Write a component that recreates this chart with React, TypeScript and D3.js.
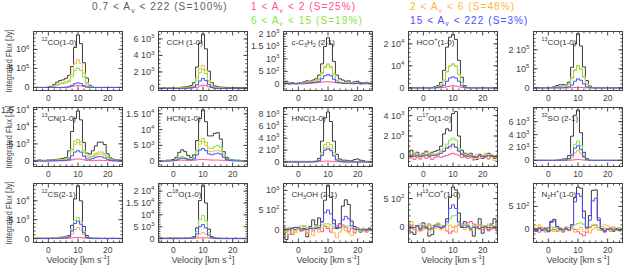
import React from "react";
import * as d3 from "d3";

const WIDTH = 623;
const HEIGHT = 266;

// velocity channels [km/s]
const velocity = [-5, -4, -3, -2, -1, 0, 1, 2, 3, 4, 5, 6, 7, 8, 9, 10, 11, 12, 13, 14, 15, 16, 17, 18, 19, 20, 21, 22, 23, 24, 25];
const xTicksMajor = [0, 10, 20];
const xTicksMinor = [-4, -2, 2, 4, 6, 8, 12, 14, 16, 18, 22, 24];

// --- 12CO(1-0)  (x 1e5 Jy)
const co12Total = [0, 0, 0, 0, 0, 0.05, 0.3, 0.8, 1.4, 1.8, 2.0, 2.4, 3.2, 5.5, 10.5, 13.8, 11.5, 6.5, 2.5, 0.6, 0.1, 0, 0, 0, 0, 0, 0, 0, 0, 0, 0];
const co12Pink = [0, 0, 0, 0, 0, 0, 0, 0, 0, 0, 0, 0.05, 0.1, 0.25, 0.4, 0.5, 0.4, 0.2, 0.05, 0, 0, 0, 0, 0, 0, 0, 0, 0, 0, 0, 0];
const co12Orange = [0, 0, 0, 0, 0, 0, 0.1, 0.4, 0.8, 1.1, 1.3, 1.5, 1.9, 3.5, 6.2, 7.3, 6.4, 3.8, 1.3, 0.3, 0.05, 0, 0, 0, 0, 0, 0, 0, 0, 0, 0];
const co12Green = [0, 0, 0, 0, 0, 0, 0.05, 0.3, 0.6, 0.9, 1.0, 1.2, 1.5, 2.8, 4.5, 5.1, 4.5, 2.7, 0.9, 0.2, 0, 0, 0, 0, 0, 0, 0, 0, 0, 0, 0];
const co12Blue = [0, 0, 0, 0, 0, 0, 0, 0, 0, 0, 0.02, 0.05, 0.2, 0.6, 1.0, 1.2, 1.0, 0.5, 0.15, 0.02, 0, 0, 0, 0, 0, 0, 0, 0, 0, 0, 0];

// --- CCH (1-0)  (x 1e3 Jy)
const cchTotal = [0.05, 0.05, 0.08, 0.05, 0.1, 0.1, 0.1, 0.12, 0.15, 0.2, 0.25, 0.35, 0.7, 2.6, 5.5, 6.6, 4.8, 2.1, 0.7, 0.3, 0.2, 0.15, 0.15, 0.12, 0.1, 0.12, 0.1, 0.1, 0.08, 0.1, 0.1];
const cchPink = [0, 0, 0, 0, 0, 0, 0, 0, 0, 0, 0.02, 0.05, 0.08, 0.15, 0.3, 0.4, 0.35, 0.2, 0.08, 0.02, 0, 0, 0, 0, 0, 0, 0, 0, 0, 0, 0];
const cchOrange = [0, 0.02, 0, 0.03, 0.05, 0.05, 0.08, 0.1, 0.12, 0.15, 0.15, 0.2, 0.4, 1.3, 2.4, 2.8, 2.2, 1.0, 0.3, 0.1, 0.05, 0.05, 0.03, 0.02, 0.03, 0.02, 0, 0.02, 0, 0, 0];
const cchGreen = [0, 0, 0.02, 0, 0.03, 0.05, 0.05, 0.08, 0.1, 0.12, 0.12, 0.15, 0.3, 1.0, 1.9, 2.3, 1.8, 0.8, 0.25, 0.08, 0.03, 0.02, 0.02, 0, 0.02, 0, 0, 0, 0, 0, 0];
const cchBlue = [0, 0, 0, 0, 0, 0, 0, 0, 0.02, 0.03, 0.05, 0.08, 0.15, 0.45, 0.9, 1.2, 0.95, 0.45, 0.12, 0.03, 0, 0, 0, 0, 0, 0, 0, 0, 0, 0, 0];

// --- c-C3H2 (2-1)  (x 1e3 Jy)
const c3h2Total = [0.05, 0.1, 0.03, 0.05, 0, 0.02, 0.05, 0.08, 0.12, 0.1, 0.15, 0.2, 0.35, 0.8, 1.5, 1.85, 1.6, 0.9, 0.35, 0.2, 0.15, 0.1, 0.12, 0.05, 0.08, 0.1, 0.05, 0.03, 0.06, 0.02, 0.03];
const c3h2Pink = [0, 0.01, -0.02, 0, 0.01, -0.01, 0.02, 0, 0.01, 0.02, 0.03, 0.04, 0.05, 0.07, 0.08, 0.08, 0.07, 0.06, 0.04, 0.05, 0.03, 0.06, 0.04, 0.02, 0, 0.01, -0.01, 0, 0.01, 0, 0];
const c3h2Orange = [0.02, 0.05, 0, 0.03, 0.02, 0, 0.03, 0.05, 0.08, 0.06, 0.1, 0.12, 0.2, 0.45, 0.7, 0.8, 0.7, 0.4, 0.15, 0.08, 0.05, 0.03, 0.06, 0.02, 0.04, 0.05, 0.02, 0, 0.03, 0.01, 0.02];
const c3h2Green = [0.03, 0.02, 0.04, 0, 0.02, 0.03, 0.02, 0.06, 0.05, 0.08, 0.08, 0.1, 0.18, 0.4, 0.65, 0.75, 0.65, 0.35, 0.12, 0.05, 0.03, 0.04, 0.02, 0.03, 0.02, 0.04, 0.01, 0.02, 0.02, 0.03, 0.02];
const c3h2Blue = [0, 0.02, 0, 0.01, 0, 0.02, 0, 0.02, 0.03, 0.04, 0.05, 0.06, 0.1, 0.2, 0.32, 0.37, 0.32, 0.18, 0.06, 0.03, 0.02, 0.01, 0.02, 0, 0.01, 0.02, 0, 0.01, 0, 0.01, 0];

// --- HCO+(1-0)  (x 1e4 Jy)
const hcopTotal = [0, 0, 0, 0, 0, 0, 0, 0, 0.02, 0.05, 0.1, 0.25, 0.8, 1.85, 2.3, 2.42, 2.2, 1.25, 0.48, 0.1, 0.02, 0, 0, 0, 0, 0, 0, 0, 0, 0, 0];
const hcopPink = [0, 0, 0, 0, 0, 0, 0, 0, 0, 0, 0, 0.01, 0.02, 0.05, 0.08, 0.1, 0.08, 0.05, 0.02, 0, 0, 0, 0, 0, 0, 0, 0, 0, 0, 0, 0];
const hcopOrange = [0, 0, 0, 0, 0, 0, 0, 0, 0, 0.02, 0.05, 0.12, 0.35, 0.75, 1.0, 1.1, 1.0, 0.62, 0.25, 0.05, 0, 0, 0, 0, 0, 0, 0, 0, 0, 0, 0];
const hcopGreen = [0, 0, 0, 0, 0, 0, 0, 0, 0, 0.02, 0.05, 0.12, 0.35, 0.72, 0.98, 1.05, 0.98, 0.6, 0.25, 0.05, 0, 0, 0, 0, 0, 0, 0, 0, 0, 0, 0];
const hcopBlue = [0, 0, 0, 0, 0, 0, 0, 0, 0, 0, 0.02, 0.05, 0.12, 0.3, 0.45, 0.5, 0.45, 0.3, 0.1, 0.02, 0, 0, 0, 0, 0, 0, 0, 0, 0, 0, 0];

// --- 13CO(1-0)  (x 1e5 Jy)
const co13Total = [0, 0, 0, 0, 0, 0, 0.02, 0.06, 0.12, 0.16, 0.17, 0.15, 0.3, 1.08, 2.3, 2.85, 2.2, 1.1, 0.38, 0.1, 0.02, 0, 0, 0, 0, 0, 0, 0, 0, 0, 0];
const co13Pink = [0, 0, 0, 0, 0, 0, 0, 0, 0, 0, 0, 0, 0, 0.01, 0.02, 0.03, 0.02, 0.01, 0, 0, 0, 0, 0, 0, 0, 0, 0, 0, 0, 0, 0];
const co13Orange = [0, 0, 0, 0, 0, 0, 0.01, 0.02, 0.05, 0.07, 0.08, 0.08, 0.17, 0.5, 0.9, 1.1, 0.95, 0.55, 0.18, 0.04, 0, 0, 0, 0, 0, 0, 0, 0, 0, 0, 0];
const co13Green = [0, 0, 0, 0, 0, 0, 0.01, 0.03, 0.06, 0.08, 0.1, 0.1, 0.2, 0.55, 0.95, 1.17, 1.0, 0.6, 0.2, 0.05, 0, 0, 0, 0, 0, 0, 0, 0, 0, 0, 0];
const co13Blue = [0, 0, 0, 0, 0, 0, 0, 0, 0, 0, 0, 0.02, 0.05, 0.15, 0.35, 0.47, 0.4, 0.2, 0.05, 0.01, 0, 0, 0, 0, 0, 0, 0, 0, 0, 0, 0];

// --- 13CN(1-0)  (x 1e3 Jy)
const cn13Total = [0.2, 0.2, 0.3, 0.2, 0.2, 0.3, 0.3, 0.4, 0.5, 0.6, 0.8, 1.0, 3.0, 8.6, 12.4, 14.6, 12.0, 5.4, 2.3, 2.0, 3.0, 4.4, 5.5, 5.5, 4.8, 2.1, 0.9, 0.5, 0.3, 0.3, 0.2];
const cn13Pink = [0, 0, 0, 0, 0, 0, 0, 0.02, 0.05, 0.05, 0.08, 0.1, 0.15, 0.35, 0.55, 0.6, 0.55, 0.35, 0.15, 0.1, 0.12, 0.18, 0.22, 0.2, 0.15, 0.08, 0.05, 0, 0, 0, 0];
const cn13Orange = [0.1, 0.1, 0.1, 0.1, 0.1, 0.1, 0.15, 0.2, 0.25, 0.3, 0.35, 0.4, 0.8, 3.0, 4.9, 5.4, 4.7, 2.5, 1.2, 1.0, 1.2, 1.7, 2.0, 2.0, 1.7, 0.9, 0.4, 0.2, 0.15, 0.1, 0.1];
const cn13Green = [0.1, 0.1, 0.15, 0.1, 0.1, 0.15, 0.2, 0.25, 0.3, 0.4, 0.45, 0.5, 1.0, 3.5, 5.8, 6.3, 5.5, 3.0, 1.5, 1.2, 1.5, 2.2, 2.6, 2.6, 2.2, 1.2, 0.5, 0.3, 0.2, 0.15, 0.1];
const cn13Blue = [0, 0, 0.05, 0, 0, 0.05, 0.05, 0.1, 0.1, 0.15, 0.15, 0.2, 0.5, 1.5, 2.6, 3.0, 2.6, 1.4, 0.6, 0.5, 0.7, 1.1, 1.3, 1.2, 0.9, 0.5, 0.2, 0.1, 0.05, 0.05, 0];

// --- HCN(1-0)  (x 1e3 Jy)
const hcnTotal = [0.2, 0.2, 0.2, 0.3, 0.3, 0.5, 1.2, 2.8, 3.6, 3.0, 1.8, 1.2, 2.0, 6.5, 13.5, 16.3, 12.5, 8.0, 8.0, 8.8, 9.0, 7.0, 3.0, 1.2, 0.6, 0.4, 0.3, 0.3, 0.2, 0.2, 0.2];
const hcnPink = [0.1, 0.1, 0.15, 0.1, 0.15, 0.2, 0.25, 0.3, 0.3, 0.3, 0.25, 0.25, 0.3, 0.4, 0.5, 0.5, 0.45, 0.4, 0.35, 0.35, 0.35, 0.3, 0.25, 0.2, 0.2, 0.15, 0.15, 0.1, 0.1, 0.1, 0.1];
const hcnOrange = [0.05, 0.05, 0.1, 0.1, 0.1, 0.2, 0.5, 1.0, 1.3, 1.0, 0.7, 0.5, 1.0, 3.0, 5.4, 6.2, 5.0, 3.2, 3.0, 3.3, 3.5, 3.0, 1.6, 0.6, 0.3, 0.2, 0.15, 0.1, 0.1, 0.1, 0.05];
const hcnGreen = [0.05, 0.05, 0.1, 0.1, 0.1, 0.2, 0.6, 1.2, 1.5, 1.2, 0.8, 0.6, 1.2, 3.5, 6.3, 7.2, 6.0, 4.2, 4.0, 4.6, 5.0, 4.3, 2.3, 0.8, 0.4, 0.3, 0.2, 0.15, 0.1, 0.1, 0.1];
const hcnBlue = [0, 0, 0, 0.05, 0.05, 0.1, 0.3, 0.7, 0.9, 0.8, 0.5, 0.4, 0.7, 2.0, 3.5, 4.0, 3.3, 2.3, 2.0, 2.3, 2.5, 2.2, 1.2, 0.5, 0.2, 0.1, 0.1, 0.05, 0.05, 0, 0];

// --- HNC(1-0)  (x 1e3 Jy)
const hncTotal = [0.1, 0.1, 0.1, 0.1, 0.1, 0.1, 0.1, 0.1, 0.1, 0.1, 0.1, 0.15, 0.6, 3.5, 7.4, 8.4, 6.8, 3.5, 1.3, 0.5, 0.3, 0.3, 0.2, 0.2, 0.4, 0.5, 0.3, 0.2, 0.1, 0.1, 0.1];
const hncPink = [0, 0, 0, 0, 0, 0, 0, 0, 0, 0, 0, 0.02, 0.05, 0.1, 0.15, 0.15, 0.12, 0.08, 0.04, 0.02, 0, 0, 0, 0, 0, 0, 0, 0, 0, 0, 0];
const hncOrange = [0, 0, 0, 0, 0, 0, 0, 0, 0, 0.02, 0.03, 0.08, 0.2, 1.2, 2.3, 2.6, 2.2, 1.2, 0.4, 0.15, 0.05, 0.03, 0, 0, 0, 0, 0, 0, 0, 0, 0];
const hncGreen = [0, 0, 0, 0, 0, 0, 0, 0, 0, 0.02, 0.05, 0.1, 0.3, 1.6, 2.9, 3.3, 2.9, 1.6, 0.5, 0.2, 0.1, 0.05, 0.05, 0, 0, 0, 0, 0, 0, 0, 0];
const hncBlue = [0, 0, 0, 0, 0, 0, 0, 0, 0, 0, 0.02, 0.05, 0.2, 1.1, 2.0, 2.2, 1.9, 1.0, 0.3, 0.1, 0.03, 0, 0, 0, 0, 0, 0, 0, 0, 0, 0];

// --- C17O(1-0)  (x 1e3 Jy)
const c17oTotal = [0.2, 0.6, 0.2, 0.4, 0.1, 0.3, 0.5, 0.2, 0.4, 0.5, 0.6, 1.0, 2.2, 2.7, 2.5, 4.2, 4.4, 2.0, 0.6, 0.3, 0.2, 0.3, -0.1, -0.3, 0.2, -0.2, 0.1, 0.3, 0.1, -0.2, 0.1];
const c17oPink = [-0.2, -0.1, -0.3, -0.1, -0.2, 0, -0.2, -0.1, -0.3, -0.1, 0, -0.1, 0, 0.1, 0.2, 0.3, 0.2, 0.1, -0.1, 0, -0.2, -0.1, -0.3, -0.1, -0.2, 0, -0.1, -0.2, 0, -0.1, -0.2];
const c17oOrange = [0.3, -0.2, 0.4, 0.1, -0.3, 0.2, 0.4, -0.1, 0.3, 0.1, 0.3, 0.6, 0.5, 0.9, 0.8, 1.0, 0.9, 0.6, 0.2, -0.1, 0.3, 0.1, -0.4, 0.2, -0.2, 0.1, 0.3, -0.3, 0.2, -0.4, 0.1];
const c17oGreen = [0.1, 0.2, 0, 0.15, 0.05, 0.1, 0.2, 0.1, 0.15, 0.2, 0.3, 0.5, 0.8, 1.2, 1.6, 1.8, 1.6, 0.8, 0.3, 0.15, 0.1, 0.1, 0, -0.05, 0.1, 0, 0.05, 0.1, 0, -0.05, 0];
const c17oBlue = [0, 0.1, 0, 0.05, 0, 0.05, 0.1, 0, 0.1, 0.1, 0.15, 0.3, 0.5, 0.8, 1.0, 1.2, 0.9, 0.5, 0.2, 0.05, 0, 0.05, 0, -0.05, 0.05, 0, 0, 0.05, 0, 0, 0];

// --- 32SO (2-1)  (x 1e3 Jy)
const soTotal = [0, 0, 0, 0, 0, 0, 0, 0, 0.05, 0.1, 0.2, 0.25, 0.75, 3.75, 7.0, 7.8, 4.3, 1.25, 0.3, 0.05, 0, 0, 0, 0, 0, 0, 0, 0, 0, 0, 0];
const soPink = [0, 0, 0, 0, 0, 0, 0, 0, 0, 0, 0, 0, 0.02, 0.05, 0.1, 0.12, 0.1, 0.05, 0.02, 0, 0, 0, 0, 0, 0, 0, 0, 0, 0, 0, 0];
const soOrange = [0, 0, 0, 0, 0, 0, 0, 0, 0, 0, 0.02, 0.03, 0.15, 0.5, 1.2, 1.5, 1.1, 0.4, 0.05, 0, 0, 0, 0, 0, 0, 0, 0, 0, 0, 0, 0];
const soGreen = [0, 0, 0, 0, 0, 0, 0, 0, 0, 0.02, 0.05, 0.08, 0.3, 1.0, 2.5, 3.0, 2.3, 0.8, 0.2, 0.03, 0, 0, 0, 0, 0, 0, 0, 0, 0, 0, 0];
const soBlue = [0, 0, 0, 0, 0, 0, 0, 0, 0, 0, 0.02, 0.05, 0.25, 0.8, 1.9, 2.25, 1.7, 0.6, 0.1, 0, 0, 0, 0, 0, 0, 0, 0, 0, 0, 0, 0];

// --- 12CS(2-1)  (x 1e3 Jy)
const cs12Total = [0.1, 0.1, 0.2, 0.1, 0.1, 0.1, 0.15, 0.2, 0.2, 0.3, 0.5, 0.6, 0.8, 3.5, 10.5, 14.0, 10.0, 3.2, 0.8, 0.2, 0.1, 0.1, 0.1, 0.05, 0.1, 0.05, 0.05, 0.1, 0.05, 0.05, 0.05];
const cs12Pink = [0, 0, 0, 0, 0, 0, 0, 0, 0, 0, 0.05, 0.05, 0.08, 0.15, 0.25, 0.3, 0.25, 0.15, 0.05, 0, 0, 0, 0, 0, 0, 0, 0, 0, 0, 0, 0];
const cs12Orange = [0.2, -0.1, 0.3, 0, 0.1, 0.1, 0.2, 0, 0.2, 0.4, 0.5, 0.4, 0.5, 1.2, 2.4, 2.9, 2.3, 1.0, 0.2, 0, 0.1, 0, 0.1, 0, 0.05, 0, 0.1, 0, 0, 0.05, 0];
const cs12Green = [0.05, 0.1, 0.05, 0.05, 0.05, 0.1, 0.1, 0.15, 0.2, 0.25, 0.3, 0.35, 0.6, 2.5, 4.8, 5.6, 4.5, 2.0, 0.4, 0.1, 0.05, 0.05, 0.05, 0, 0.05, 0, 0, 0.05, 0, 0, 0];
const cs12Blue = [0, 0, 0, 0, 0, 0.02, 0.02, 0.05, 0.05, 0.1, 0.15, 0.2, 0.4, 2.0, 4.0, 4.6, 3.8, 1.5, 0.3, 0.05, 0, 0, 0, 0, 0, 0, 0, 0, 0, 0, 0];

// --- C18O(1-0)  (x 1e3 Jy)
const c18oTotal = [0.2, 0.3, 0.1, 0.2, 0.3, 0.2, 0.3, 0.2, 0.2, 0.3, 0.4, 0.5, 0.8, 4.5, 16.0, 22.5, 15.0, 4.0, 0.8, 0.3, 0.2, 0.2, 0.1, 0.2, 0.1, 0.1, 0.2, 0.1, 0.1, 0.1, 0.1];
const c18oPink = [0, 0, 0, 0, 0, 0, 0, 0, 0, 0, 0, 0.05, 0.1, 0.2, 0.3, 0.35, 0.3, 0.2, 0.1, 0.05, 0, 0, 0, 0, 0, 0, 0, 0, 0, 0, 0];
const c18oOrange = [0.2, 0, 0.3, 0.1, 0, 0.2, 0.1, 0, 0.2, 0.1, 0.3, 0.2, 0.3, 0.8, 2.0, 2.5, 1.8, 0.6, 0.1, 0, 0.1, 0, 0.1, 0, 0, 0.1, 0, 0, 0.1, 0, 0];
const c18oGreen = [0.1, 0.2, 0.1, 0.1, 0.2, 0.1, 0.2, 0.1, 0.1, 0.2, 0.25, 0.3, 0.5, 3.0, 8.0, 9.8, 7.5, 2.5, 0.4, 0.1, 0.1, 0.1, 0.05, 0.1, 0.05, 0.05, 0.1, 0.05, 0.05, 0.05, 0.05];
const c18oBlue = [0, 0, 0, 0, 0, 0, 0, 0, 0, 0.05, 0.1, 0.15, 0.3, 2.0, 5.0, 5.9, 4.5, 1.5, 0.3, 0.05, 0, 0, 0, 0, 0, 0, 0, 0, 0, 0, 0];

// --- CH3OH (2-1)  (Jy)
const ch3ohTotal = [50, -250, -120, 40, 0, 60, -20, 30, -180, 80, 250, 120, 300, 200, 750, 1130, 820, 250, 60, 150, 600, 760, 640, 220, 80, 30, -60, 20, -30, 40, -20];
const ch3ohPink = [80, -60, 30, -120, 60, 20, -40, 90, -80, 40, -30, 60, 20, -50, 80, 30, -60, 40, 100, 150, 120, 60, -40, 30, -80, 50, -30, 20, -60, 40, -20];
const ch3ohOrange = [-60, 40, -120, 20, -80, 60, -40, 100, -100, 30, -150, 50, -60, 40, 100, 80, 20, -80, -200, -60, 40, -30, -80, -150, -100, 20, -40, 30, -60, 0, -30];
const ch3ohGreen = [30, -40, 60, 20, -30, 50, 100, 80, 40, 60, 20, 80, 100, 120, 150, 150, 120, 60, 20, 40, 80, 100, 90, 40, 0, 30, -20, 40, 10, -30, 20];
const ch3ohBlue = [-20, 10, 0, 40, 60, 50, 20, 0, 10, 30, 40, 30, 60, 200, 430, 500, 400, 150, 30, 60, 250, 340, 280, 100, 20, 0, 10, -10, 0, 10, 0];

// --- H13CO+(1-0)  (Jy)
const h13copTotal = [60, -80, -120, 30, -40, 80, 20, -150, -120, 40, 60, -20, 30, 150, 520, 700, 650, 250, 0, 100, 40, -40, -150, 50, 150, -100, 20, -40, 60, 150, -60];
const h13copPink = [-20, 40, -40, 20, -60, 30, -20, 60, -30, 20, 40, -20, 0, -60, -100, -60, 20, 40, 60, 40, 80, 100, 60, -20, 40, -40, 20, -60, 30, -20, 40];
const h13copOrange = [60, 100, 40, -60, 20, -40, 60, -80, 30, -20, 80, -40, 20, -60, 40, 0, -80, 60, 20, -40, 30, -60, 20, 50, -30, 40, -20, 60, -40, 20, 80];
const h13copGreen = [40, 10, -30, 20, 60, -20, 10, 30, -40, 20, 0, 40, 30, 60, 150, 200, 210, 80, 30, 60, 0, -20, 40, 10, -30, 20, 0, 40, -10, 20, 10];
const h13copBlue = [20, -10, 0, 30, -20, 10, 0, -30, -10, 20, 10, 0, 20, 100, 330, 390, 330, 100, 10, 0, 20, -10, 0, 10, -20, 0, 10, 0, -10, 10, 0];

// --- N2H+(1-0)  (Jy)
const n2hpTotal = [20, -40, 40, -20, 30, -50, 180, 220, 60, 0, -30, 20, -20, 100, 700, 920, 900, 400, 50, 300, 850, 860, 200, 0, -50, 0, 30, -40, 20, -30, 10];
const n2hpPink = [-40, 20, -60, 30, -20, 40, -30, 0, -40, 20, -60, 40, -20, 30, 0, -50, -100, -140, -60, 40, 80, 100, 40, -20, -60, 20, -40, 30, -20, 0, -30];
const n2hpOrange = [40, 80, 100, 30, -60, 20, 60, -40, 0, 40, -20, 60, -30, 20, -60, 0, 40, -50, 20, -80, 0, 40, -20, 60, 100, 80, -40, 60, -20, 40, 0];
const n2hpGreen = [30, -20, 50, 0, -40, 20, -10, 40, 10, -30, 20, 0, 40, 60, 100, 130, 140, 110, 40, 60, 100, 80, 40, -20, 30, 0, -30, 20, 0, 40, -10];
const n2hpBlue = [10, -20, 20, -10, 10, -30, 150, 180, 60, 10, -10, 10, -10, 100, 600, 780, 720, 250, 30, 200, 620, 680, 250, 20, -20, 0, 10, -10, 0, -10, 0];

const legendItems = [
  { label: "0.7 < A_{v} < 222 (S=100%)", color: "#5c5c5c", x: 92, y: 10 },
  { label: "1 < A_{v} < 2 (S=25%)", color: "#ff4f8c", x: 251, y: 10 },
  { label: "2 < A_{v} < 6 (S=48%)", color: "#ffb443", x: 410, y: 10 },
  { label: "6 < A_{v} < 15 (S=19%)", color: "#86e53c", x: 251, y: 23.5 },
  { label: "15 < A_{v} < 222 (S=3%)", color: "#4b4bff", x: 410, y: 23.5 },
];

const seriesColors = ["#3a3a3a", "#ff4f8c", "#ffb443", "#86e53c", "#4b4bff"];

const panels = [
  { title: "^{12}CO(1-0)", unit: 1e5, y: [-0.08e6, 1.47e6], ticks: [0, 5e5, 1e6], minor: 1e5, series: [co12Total, co12Pink, co12Orange, co12Green, co12Blue] },
  { title: "CCH (1-0)", unit: 1e3, y: [-250, 6900], ticks: [0, 2e3, 4e3, 6e3], minor: 500, series: [cchTotal, cchPink, cchOrange, cchGreen, cchBlue] },
  { title: "c-C_{3}H_{2} (2-1)", unit: 1e3, y: [-270, 2100], ticks: [0, 500, 1000, 1500, 2000], minor: 100, series: [c3h2Total, c3h2Pink, c3h2Orange, c3h2Green, c3h2Blue] },
  { title: "HCO^{+}(1-0)", unit: 1e4, y: [-1200, 25600], ticks: [0, 1e4, 2e4], minor: 2e3, series: [hcopTotal, hcopPink, hcopOrange, hcopGreen, hcopBlue] },
  { title: "^{13}CO(1-0)", unit: 1e5, y: [-14000, 296000], ticks: [0, 1e5, 2e5], minor: 2e4, series: [co13Total, co13Pink, co13Orange, co13Green, co13Blue] },
  { title: "^{13}CN(1-0)", unit: 1e3, y: [-1600, 15600], ticks: [0, 5e3, 1e4, 1.5e4], minor: 1e3, series: [cn13Total, cn13Pink, cn13Orange, cn13Green, cn13Blue] },
  { title: "HCN(1-0)", unit: 1e3, y: [-1700, 17000], ticks: [0, 5e3, 1e4, 1.5e4], minor: 1e3, series: [hcnTotal, hcnPink, hcnOrange, hcnGreen, hcnBlue] },
  { title: "HNC(1-0)", unit: 1e3, y: [-760, 9150], ticks: [0, 2e3, 4e3, 6e3, 8e3], minor: 500, series: [hncTotal, hncPink, hncOrange, hncGreen, hncBlue] },
  { title: "C^{17}O(1-0)", unit: 1e3, y: [-1000, 4800], ticks: [0, 2e3, 4e3], minor: 500, series: [c17oTotal, c17oPink, c17oOrange, c17oGreen, c17oBlue] },
  { title: "^{32}SO (2-1)", unit: 1e3, y: [-950, 8200], ticks: [0, 2e3, 4e3, 6e3], minor: 500, series: [soTotal, soPink, soOrange, soGreen, soBlue] },
  { title: "^{12}CS(2-1)", unit: 1e3, y: [-1050, 14600], ticks: [0, 5e3, 1e4], minor: 1e3, series: [cs12Total, cs12Pink, cs12Orange, cs12Green, cs12Blue] },
  { title: "C^{18}O(1-0)", unit: 1e3, y: [-1650, 23200], ticks: [0, 5e3, 1e4, 1.5e4, 2e4], minor: 1e3, series: [c18oTotal, c18oPink, c18oOrange, c18oGreen, c18oBlue] },
  { title: "CH_{3}OH (2-1)", unit: 1, y: [-325, 1175], ticks: [0, 500, 1000], minor: 100, series: [ch3ohTotal, ch3ohPink, ch3ohOrange, ch3ohGreen, ch3ohBlue] },
  { title: "H^{13}CO^{+}(1-0)", unit: 1, y: [-260, 760], ticks: [0, 500], minor: 100, series: [h13copTotal, h13copPink, h13copOrange, h13copGreen, h13copBlue] },
  { title: "N_{2}H^{+}(1-0)", unit: 1, y: [-285, 1000], ticks: [0, 500], minor: 100, series: [n2hpTotal, n2hpPink, n2hpOrange, n2hpGreen, n2hpBlue] },
];

const FONT = "'Liberation Sans', Arial, Helvetica, sans-serif";
const AXIS = "#444";
const colLeft = [33.5, 158.5, 283.5, 408.5, 533.5];
const rowTop = [31.5, 107.5, 183.5];
const PW = 89;
const PH = 59;

// text with ^{sup} and _{sub} markup
function Rich({ s, x, y, size, ...rest }: any) {
  const parts = s.split(/(\^\{[^}]*\}|_\{[^}]*\})/).filter((p: string) => p.length);
  let shift = 0;
  return (
    <text x={x} y={y} fontSize={size} {...rest}>
      {parts.map((p: string, i: number) => {
        let target = 0;
        let txt = p;
        let fs = size;
        if (p.startsWith("^{")) {
          target = -size * 0.42;
          txt = p.slice(2, -1);
          fs = size * 0.68;
        } else if (p.startsWith("_{")) {
          target = size * 0.25;
          txt = p.slice(2, -1);
          fs = size * 0.68;
        }
        const dy = target - shift;
        shift = target;
        return (
          <tspan key={i} dy={dy} fontSize={fs}>
            {txt}
          </tspan>
        );
      })}
    </text>
  );
}

function fmt(v: number) {
  if (v === 0) return "0";
  const e = Math.floor(Math.log10(v) + 1e-9);
  const m = +(v / Math.pow(10, e)).toFixed(2);
  return m === 1 ? `10^{${e}}` : `${m} 10^{${e}}`;
}

function Panel({ p, idx }: any) {
  const col = idx % 5;
  const row = Math.floor(idx / 5);
  const x0 = colLeft[col];
  const y0 = rowTop[row];
  const x = d3.scaleLinear().domain([-5, 25]).range([x0, x0 + PW]);
  const y = d3.scaleLinear().domain(p.y).range([y0 + PH, y0]);
  const line = d3
    .line<number>()
    .x((_, i) => x(velocity[i]))
    .y((d) => y(d * p.unit))
    .curve(d3.curveStep);
  const clipId = `clip${idx}`;
  const yMinor = d3.range(Math.ceil(p.y[0] / p.minor) * p.minor, p.y[1], p.minor);

  return (
    <g>
      <defs>
        <clipPath id={clipId}>
          <rect x={x0} y={y0} width={PW} height={PH} />
        </clipPath>
      </defs>
      <g clipPath={`url(#${clipId})`}>
        {p.series.map((s: number[], i: number) => (
          <path key={i} d={line(s) || ""} fill="none" stroke={seriesColors[i]} strokeWidth={1} />
        ))}
      </g>
      <rect x={x0} y={y0} width={PW} height={PH} fill="none" stroke={AXIS} strokeWidth={1} />
      {xTicksMajor.map((t) => (
        <g key={"xm" + t}>
          <line x1={x(t)} x2={x(t)} y1={y0 + PH} y2={y0 + PH - 4} stroke={AXIS} />
          <line x1={x(t)} x2={x(t)} y1={y0} y2={y0 + 4} stroke={AXIS} />
        </g>
      ))}
      {xTicksMinor.map((t) => (
        <g key={"xn" + t}>
          <line x1={x(t)} x2={x(t)} y1={y0 + PH} y2={y0 + PH - 2} stroke={AXIS} />
          <line x1={x(t)} x2={x(t)} y1={y0} y2={y0 + 2} stroke={AXIS} />
        </g>
      ))}
      {yMinor.map((t: number) => (
        <g key={"yn" + t}>
          <line x1={x0} x2={x0 + 2} y1={y(t)} y2={y(t)} stroke={AXIS} />
          <line x1={x0 + PW} x2={x0 + PW - 2} y1={y(t)} y2={y(t)} stroke={AXIS} />
        </g>
      ))}
      {p.ticks.map((t: number) => (
        <g key={"ym" + t}>
          <line x1={x0} x2={x0 + 4} y1={y(t)} y2={y(t)} stroke={AXIS} />
          <line x1={x0 + PW} x2={x0 + PW - 4} y1={y(t)} y2={y(t)} stroke={AXIS} />
          <Rich s={fmt(t)} x={x0 - 4} y={y(t) + 3} size={9} textAnchor="end" fill={AXIS} />
        </g>
      ))}
      {xTicksMajor.map((t) => (
        <text key={"xl" + t} x={x(t)} y={y0 + PH + 10} fontSize={8.5} textAnchor="middle" fill={AXIS}>
          {t}
        </text>
      ))}
      <Rich s={p.title} x={x0 + 8} y={y0 + 13} size={8} fill="#333" />
      {row === 2 && (
        <Rich s="Velocity [km s^{-1}]" x={x0 + PW / 2} y={263} size={9} textAnchor="middle" fill={AXIS} />
      )}
    </g>
  );
}

export default function App() {
  return (
    <div style={{ position: "absolute", left: 0, top: 0 }}>
      <svg width={WIDTH} height={HEIGHT} style={{ display: "block", background: "#fff" }} fontFamily={FONT}>
        {legendItems.map((l) => (
          <Rich key={l.label} s={l.label} x={l.x} y={l.y} size={10} fill={l.color} letterSpacing={1.1} style={{ whiteSpace: "pre" }} />
        ))}
        {rowTop.map((t, i) => (
          <text
            key={i}
            transform={`translate(11.5,${t + PH / 2}) rotate(-90)`}
            textAnchor="middle"
            fontSize={8.5}
            textLength={63}
            lengthAdjust="spacingAndGlyphs"
            fill={AXIS}
          >
            Integrated Flux [Jy]
          </text>
        ))}
        {panels.map((p, i) => (
          <Panel key={i} p={p} idx={i} />
        ))}
      </svg>
    </div>
  );
}
